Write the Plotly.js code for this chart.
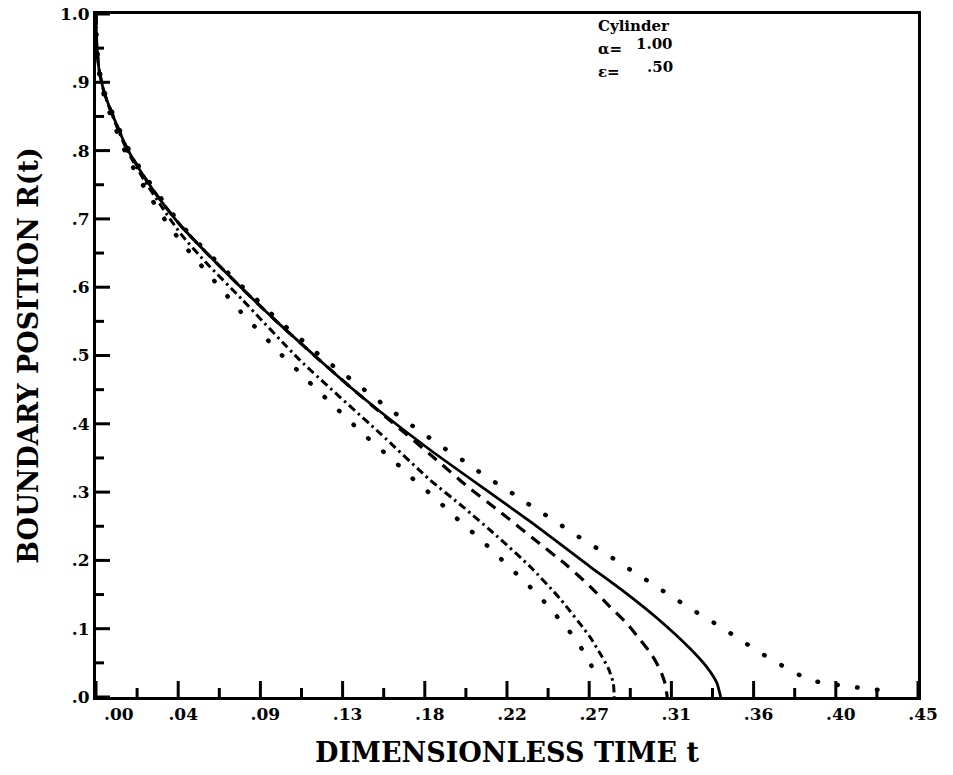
<!DOCTYPE html>
<html>
<head>
<meta charset="utf-8">
<script src="https://cdn.plot.ly/plotly-3.0.1.min.js"></script>
<style>
  html, body { margin: 0; padding: 0; background: #fff; }
  #chart { width: 953px; height: 775px; }
  /* round dots for the two bounding curves (first two traces) */
  #chart .scatterlayer .trace:nth-child(-n+2) .js-line { stroke-linecap: round; }
</style>
</head>
<body>
<div id="chart"></div>
<script>
// Moving boundary R(t) in a cylinder: computed solution (solid), two
// approximations (dashed, dash-dot) and upper / lower bounds (dotted).

const solidT = [0, 0.0003, 0.0016, 0.0044, 0.0099, 0.0171, 0.0263, 0.0354, 0.0464, 0.0606,
  0.080, 0.100, 0.120, 0.140, 0.1555, 0.1828, 0.2376, 0.2704, 0.2887, 0.3069, 0.3252,
  0.3343, 0.3398, 0.3420];
const solidR = [1.000, 0.960, 0.920, 0.886, 0.847, 0.803, 0.762, 0.727, 0.690, 0.650,
  0.598, 0.547, 0.499, 0.452, 0.418, 0.362, 0.257, 0.191, 0.155, 0.116, 0.071,
  0.044, 0.021, 0.000];

const dashT = [0, 0.0003, 0.0016, 0.0044, 0.0099, 0.0171, 0.0263, 0.0354, 0.0464, 0.0606,
  0.080, 0.100, 0.120, 0.140, 0.1555, 0.1865, 0.2026, 0.2212, 0.2394, 0.2577, 0.2704,
  0.2814, 0.2905, 0.2978, 0.3042, 0.3088, 0.3115, 0.3127];
const dashR = [1.000, 0.960, 0.920, 0.886, 0.847, 0.803, 0.762, 0.727, 0.690, 0.650,
  0.598, 0.547, 0.499, 0.452, 0.417, 0.347, 0.310, 0.271, 0.232, 0.193, 0.162,
  0.132, 0.108, 0.084, 0.062, 0.040, 0.020, 0.000];

const dashDotT = [0, 0.0003, 0.0016, 0.0044, 0.0099, 0.0171, 0.0263, 0.0354, 0.0464, 0.0606,
  0.080, 0.1117, 0.1555, 0.1828, 0.2011, 0.2193, 0.2376, 0.2540, 0.2704, 0.2759,
  0.2805, 0.2832, 0.2837];
const dashDotR = [1.000, 0.960, 0.920, 0.885, 0.845, 0.800, 0.757, 0.720, 0.678, 0.635,
  0.582, 0.493, 0.386, 0.318, 0.278, 0.236, 0.191, 0.144, 0.088, 0.064,
  0.042, 0.020, 0.000];

const upperT = [0, 0.0003, 0.0016, 0.0044, 0.0099, 0.0171, 0.0263, 0.0354, 0.0464, 0.0606,
  0.0688, 0.0766, 0.0852, 0.0934, 0.1016, 0.1104, 0.1190, 0.1277, 0.1367, 0.1458,
  0.1550, 0.1640, 0.1733, 0.1823, 0.1914, 0.2011, 0.2102, 0.2197, 0.2292, 0.2387,
  0.2481, 0.2577, 0.2670, 0.2765, 0.2860, 0.2955, 0.3050, 0.3146, 0.3240, 0.3337,
  0.3430, 0.3526, 0.3618, 0.3710, 0.3810, 0.3907, 0.4027, 0.4128, 0.4240, 0.4347];
const upperR = [1.000, 0.962, 0.922, 0.888, 0.849, 0.806, 0.765, 0.731, 0.692, 0.652,
  0.631, 0.609, 0.589, 0.568, 0.547, 0.528, 0.508, 0.489, 0.471, 0.452,
  0.433, 0.415, 0.397, 0.380, 0.363, 0.346, 0.329, 0.312, 0.296, 0.279,
  0.263, 0.246, 0.230, 0.214, 0.198, 0.181, 0.165, 0.148, 0.132, 0.116,
  0.101, 0.084, 0.068, 0.053, 0.038, 0.025, 0.019, 0.015, 0.012, 0.008];

const lowerT = [0, 0.0003, 0.0016, 0.0044, 0.0099, 0.0171, 0.0263, 0.0354, 0.0464, 0.0569,
  0.0642, 0.0719, 0.0792, 0.0870, 0.0949, 0.1026, 0.1108, 0.1190, 0.1268, 0.1354,
  0.1436, 0.1518, 0.1604, 0.1686, 0.1768, 0.1856, 0.1938, 0.2024, 0.2108, 0.2190,
  0.2272, 0.2354, 0.2432, 0.2507, 0.2578, 0.2646, 0.2705, 0.2748];
const lowerR = [1.000, 0.958, 0.916, 0.880, 0.838, 0.792, 0.747, 0.708, 0.667, 0.634,
  0.611, 0.587, 0.564, 0.542, 0.520, 0.498, 0.477, 0.455, 0.435, 0.413,
  0.392, 0.372, 0.352, 0.332, 0.311, 0.292, 0.270, 0.250, 0.230, 0.209,
  0.188, 0.167, 0.146, 0.123, 0.101, 0.076, 0.050, 0.022];

const xTickVals = [0, 0.045, 0.09, 0.135, 0.18, 0.225, 0.27, 0.315, 0.36, 0.405, 0.45];
const xTickLabels = ['.00', '.04', '.09', '.13', '.18', '.22', '.27', '.31', '.36', '.40', '.45'];
const yTickVals = [0, 0.1, 0.2, 0.3, 0.4, 0.5, 0.6, 0.7, 0.8, 0.9, 1.0];
const yTickLabels = ['.0', '.1', '.2', '.3', '.4', '.5', '.6', '.7', '.8', '.9', '1.0'];

const caseName = 'Cylinder';
const paramNames = ['\u03b1=', '\u03b5='];
const paramValues = ['1.00', '.50'];

const INK = '#000';
const SERIF = 'DejaVu Serif';

// half-step positions between labelled ticks
const mid = v => v.slice(1).map((x, i) => (x + v[i]) / 2);

function curve(t, r, width, dash) {
  return {
    x: t, y: r, type: 'scatter', mode: 'lines', hoverinfo: 'skip',
    line: { color: INK, width: width, dash: dash, shape: 'spline', smoothing: 0.6 }
  };
}

const data = [
  curve(upperT, upperR, 4.5, '0.5px,19.5px'),
  curve(lowerT, lowerR, 4.5, '0.5px,19.5px'),
  curve(dashDotT, dashDotR, 3, '8px,4px,2.5px,4px'),
  curve(dashT, dashR, 3.2, '11px,8px'),
  curve(solidT, solidR, 2.8, 'solid')
];

// inward tick marks along the bottom and left edges, sized in pixels
function xTick(v, len) {
  return { type: 'line', xref: 'x', yref: 'paper', ysizemode: 'pixel', yanchor: 0,
           x0: v, x1: v, y0: 0, y1: len, line: { color: INK, width: 3 }, layer: 'above' };
}
function yTick(v, len) {
  return { type: 'line', xref: 'paper', yref: 'y', xsizemode: 'pixel', xanchor: 0,
           x0: 0, x1: len, y0: v, y1: v, line: { color: INK, width: 3 }, layer: 'above' };
}
const shapes = [].concat(
  xTickVals.map(v => xTick(v, 16)),
  mid(xTickVals).map(v => xTick(v, 9)),
  yTickVals.map(v => yTick(v, 14)),
  mid(yTickVals).map(v => yTick(v, 8))
);

const tickFont = { family: SERIF, size: 17, weight: 'bold', color: INK };
const titleFont = { family: SERIF, size: 27, weight: 'bold', color: INK };
const axisBase = {
  showline: true, mirror: true, linewidth: 3, linecolor: INK,
  showgrid: false, zeroline: false, ticks: '',
  tickmode: 'array', tickfont: tickFont
};

const legendFont = { family: SERIF, size: 15, weight: 'bold', color: INK };
const notes = [
  { text: caseName, x: 0.608, y: 0.9824, xanchor: 'left' },
  { text: paramNames[0], x: 0.608, y: 0.9488, xanchor: 'left' },
  { text: paramValues[0], x: 0.7044, y: 0.956, xanchor: 'right' },
  { text: paramNames[1], x: 0.608, y: 0.915, xanchor: 'left' },
  { text: paramValues[1], x: 0.7044, y: 0.9224, xanchor: 'right' }
].map(a => Object.assign({
  xref: 'paper', yref: 'paper', yanchor: 'middle', showarrow: false, font: legendFont
}, a));

// the origin label is set just right of the corner, clear of the y labels
notes.push({
  text: xTickLabels[0], xref: 'x', yref: 'paper', x: xTickVals[0], y: 0,
  xanchor: 'left', yanchor: 'top', xshift: 6, yshift: -5, showarrow: false, font: tickFont
});

const layout = {
  width: 953, height: 775,
  margin: { l: 96, r: 35, t: 14, b: 78 },
  paper_bgcolor: '#fff', plot_bgcolor: '#fff',
  showlegend: false,
  font: { family: SERIF, color: INK },
  xaxis: Object.assign({}, axisBase, {
    range: [0, 0.45],
    tickvals: xTickVals,
    ticktext: xTickLabels.map((s, i) => i === 0 ? '' : s),
    ticklabelshift: 5,
    title: { text: 'DIMENSIONLESS TIME t', font: titleFont, standoff: 20 }
  }),
  yaxis: Object.assign({}, axisBase, {
    range: [0, 1],
    tickvals: yTickVals,
    ticktext: yTickLabels,
    title: { text: 'BOUNDARY POSITION R(t)', font: titleFont, standoff: 14 }
  }),
  shapes: shapes,
  annotations: notes
};

Plotly.newPlot('chart', data, layout, { staticPlot: true, displayModeBar: false });
</script>
</body>
</html>
